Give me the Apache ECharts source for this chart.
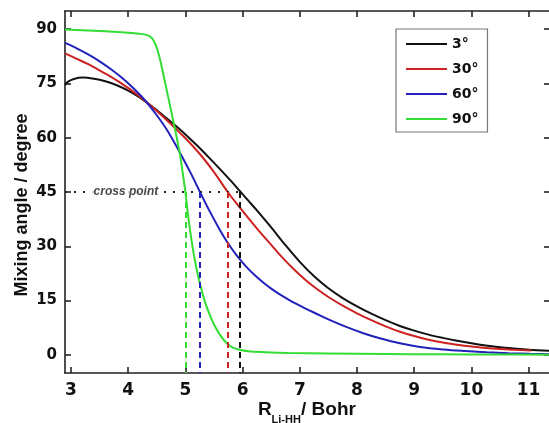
<!DOCTYPE html>
<html>
<head>
<meta charset="utf-8">
<script src="https://cdn.jsdelivr.net/npm/echarts@6/dist/echarts.min.js"></script>
<style>
  html, body { margin: 0; padding: 0; background: #fff; }
  #chart { width: 549px; height: 423px; }
</style>
</head>
<body>
<div id="chart"></div>
<script>
// Mixing angle vs. Li–HH distance for four approach angles
const seriesNames = ['3°', '30°', '60°', '90°'];
const xTicks = [3, 4, 5, 6, 7, 8, 9, 10, 11];
const yTicks = [0, 15, 30, 45, 60, 75, 90];

const angle3 = [
  [2.895, 74.6], [2.95, 75.5], [3.05, 76.2], [3.2, 76.6], [3.4, 76.3], [3.6, 75.6],
  [3.8, 74.5], [4.0, 73.0], [4.2, 71.1], [4.4, 68.8], [4.6, 66.3], [4.8, 63.7],
  [5.0, 60.9], [5.2, 57.9], [5.4, 54.7], [5.6, 51.4], [5.8, 48.0], [5.95, 45.3],
  [6.1, 42.6], [6.25, 39.9], [6.5, 35.2], [6.75, 30.3], [7.0, 25.7], [7.25, 21.7],
  [7.5, 18.4], [7.75, 15.7], [8.0, 13.4], [8.25, 11.4], [8.5, 9.6], [8.75, 8.0],
  [9.0, 6.7], [9.25, 5.6], [9.5, 4.7], [9.75, 3.9], [10.0, 3.2], [10.25, 2.6],
  [10.5, 2.1], [10.75, 1.75], [11.0, 1.45], [11.374, 1.15]
];
const angle30 = [
  [2.895, 83.3], [3.1, 81.8], [3.3, 80.3], [3.5, 78.6], [3.7, 76.8], [3.9, 74.8],
  [4.1, 72.6], [4.3, 70.1], [4.5, 67.4], [4.7, 64.5], [4.9, 61.4], [5.1, 58.2],
  [5.3, 54.6], [5.5, 50.5], [5.74, 45.0], [5.9, 41.7], [6.1, 37.8], [6.3, 34.0],
  [6.5, 30.4], [6.7, 26.8], [6.9, 23.6], [7.1, 20.7], [7.3, 18.2], [7.5, 16.0],
  [7.75, 13.6], [8.0, 11.5], [8.25, 9.6], [8.5, 7.9], [8.75, 6.4], [9.0, 5.2],
  [9.25, 4.2], [9.5, 3.4], [9.75, 2.8], [10.0, 2.3], [10.25, 1.9], [10.5, 1.6],
  [10.75, 1.4], [11.05, 1.2]
];
const angle60 = [
  [2.895, 86.2], [3.1, 84.7], [3.3, 83.0], [3.5, 81.1], [3.7, 78.9], [3.9, 76.4],
  [4.1, 73.5], [4.3, 70.2], [4.5, 66.2], [4.7, 61.6], [4.9, 56.0], [5.1, 50.0],
  [5.255, 45.0], [5.4, 40.4], [5.6, 34.6], [5.75, 30.7], [5.9, 27.4], [6.05, 24.6],
  [6.2, 22.2], [6.36, 20.0], [6.5, 18.3], [6.65, 16.7], [6.8, 15.3], [6.95, 14.0],
  [7.1, 12.8], [7.3, 11.3], [7.53, 9.6], [7.8, 7.8], [8.11, 6.0], [8.4, 4.6],
  [8.75, 3.2], [9.1, 2.2], [9.51, 1.5], [9.9, 1.05], [10.27, 0.7], [10.65, 0.45],
  [11.02, 0.3], [11.374, 0.2]
];
const angle90 = [
  [2.895, 89.9], [3.2, 89.7], [3.6, 89.4], [4.0, 89.0], [4.2, 88.7], [4.32, 88.4],
  [4.38, 88.0], [4.43, 87.2], [4.47, 86.0], [4.51, 84.3], [4.56, 81.4], [4.61, 77.8],
  [4.67, 73.4], [4.74, 68.2], [4.82, 62.2], [4.87, 58.3], [4.91, 54.9], [4.95, 50.6],
  [5.0, 45.0], [5.03, 40.8], [5.08, 34.6], [5.14, 28.4], [5.2, 23.4], [5.27, 18.7],
  [5.35, 14.3], [5.44, 10.5], [5.53, 7.5], [5.62, 5.2], [5.72, 3.3], [5.82, 2.1],
  [5.95, 1.4], [6.1, 1.0], [6.4, 0.75], [6.8, 0.55], [7.5, 0.4], [8.5, 0.25],
  [9.5, 0.15], [10.5, 0.1], [11.374, 0.05]
];

const crossAngle = 45;
const crossR = [5.95, 5.74, 5.255, 5.0];   // where each curve passes 45°
const crossLabel = 'cross point';
const crossLabelAt = [3.96, 45];

const colors = ['#111111', '#cc2222', '#2222bb', '#33dd33'];
const curves = [angle3, angle30, angle60, angle90];

const X_MIN = 2.895, X_MAX = 11.374, Y_MIN = -5, Y_MAX = 95;
const tickFont = 'DejaVu Sans';
const titleFont = 'Liberation Sans';

const frameLine = { show: true, onZero: false, lineStyle: { color: '#222', width: 1.6 } };
const innerTick = (vals) => ({ show: true, inside: true, length: 6, customValues: vals,
  lineStyle: { color: '#222', width: 1.6 } });

const series = curves.map((d, i) => {
  const marks = [[{ coord: [crossR[i], crossAngle] }, { coord: [crossR[i], Y_MIN] }]];
  if (i === 0) {
    marks.push([
      { coord: [X_MIN, crossAngle], lineStyle: { type: [2, 7], color: '#222', width: 2 } },
      { coord: [crossR[0], crossAngle] }
    ]);
  }
  return {
    name: seriesNames[i],
    type: 'line',
    data: d,
    symbol: 'none',
    showSymbol: false,
    smooth: 0.35,
    z: 3,
    lineStyle: { color: colors[i], width: 2 },
    itemStyle: { color: colors[i] },
    markLine: {
      silent: true,
      symbol: 'none',
      animation: false,
      label: { show: false },
      lineStyle: { type: [6, 4], color: colors[i], width: 2 },
      data: marks
    }
  };
});

series.push({
  type: 'scatter',
  data: [crossLabelAt],
  symbolSize: 0,
  silent: true,
  z: 5,
  label: {
    show: true,
    position: 'inside',
    formatter: crossLabel,
    fontFamily: titleFont,
    fontStyle: 'italic',
    fontWeight: 'bold',
    fontSize: 12,
    color: '#1a1a1a',
    backgroundColor: '#fff',
    padding: [1, 5]
  }
});

// axis titles
const titleText = (text, x, y, size, rotation) => ({
  type: 'text', x: x, y: y, rotation: rotation || 0, silent: true,
  style: { text: text, fontFamily: titleFont, fontWeight: 'bold', fontSize: size,
           fill: '#111', align: rotation ? 'center' : 'left', verticalAlign: 'middle' }
});

const chart = echarts.init(document.getElementById('chart'), null, { renderer: 'canvas' });
chart.setOption({
  animation: false,
  backgroundColor: '#fff',
  grid: { left: 65, right: -1, top: 11, bottom: 50, containLabel: false, outerBoundsMode: 'none' },
  legend: {
    orient: 'vertical',
    left: 396,
    top: 29,
    data: seriesNames,
    itemWidth: 41,
    itemHeight: 14,
    itemGap: 11,
    padding: [8, 9, 6, 9],
    borderColor: '#777',
    borderWidth: 1.2,
    backgroundColor: '#fff',
    itemStyle: { opacity: 0 },
    textStyle: { fontFamily: tickFont, fontWeight: 'bold', fontSize: 14, color: '#111' }
  },
  graphic: [
    titleText('Mixing angle / degree', 22, 205, 18, Math.PI / 2),
    titleText('R', 258, 410, 19),
    titleText('Li-HH', 271.5, 420, 11),
    titleText('/ Bohr', 301, 410, 19)
  ],
  xAxis: [
    {
      type: 'value', position: 'bottom', min: X_MIN, max: X_MAX,
      axisLine: frameLine,
      axisTick: innerTick(xTicks),
      axisLabel: { customValues: xTicks, margin: 9, fontFamily: tickFont, fontWeight: 'bold',
        fontSize: 17, color: '#111' },
      splitLine: { show: false }
    },
    {
      type: 'value', position: 'top', min: X_MIN, max: X_MAX,
      axisLine: frameLine, axisTick: innerTick(xTicks),
      axisLabel: { show: false }, splitLine: { show: false }
    }
  ],
  yAxis: [
    {
      type: 'value', position: 'left', min: Y_MIN, max: Y_MAX,
      axisLine: frameLine,
      axisTick: innerTick(yTicks),
      axisLabel: { customValues: yTicks, margin: 8, fontFamily: tickFont, fontWeight: 'bold',
        fontSize: 15, color: '#111' },
      splitLine: { show: false }
    },
    {
      type: 'value', position: 'right', min: Y_MIN, max: Y_MAX,
      axisLine: frameLine, axisTick: innerTick(yTicks),
      axisLabel: { show: false }, splitLine: { show: false }
    }
  ],
  series: series
});
</script>
</body>
</html>
